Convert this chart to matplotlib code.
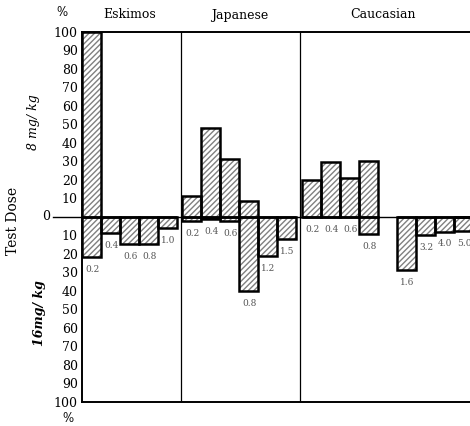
import numpy as np
import matplotlib
matplotlib.use('Agg')
import matplotlib.pyplot as plt
from matplotlib.lines import Line2D

# percent of subjects per class, upper half = 8 mg/kg, lower half = 16 mg/kg
eskimo_labels = ['0.2', '0.4', '0.6', '0.8', '1.0']
eskimo_up = [100, 0, 0, 0, 0]
eskimo_down = [22, 9, 15, 15, 6]

japanese_labels = ['0.2', '0.4', '0.6', '0.8', '1.2', '1.5']
japanese_up = [11, 48, 31, 8.5, 0, 0]
japanese_down = [2.5, 1.5, 2.5, 40, 21, 12]

caucasian_labels = ['0.2', '0.4', '0.6', '0.8', '1.6', '3.2', '4.0', '5.0']
caucasian_up = [20, 29.5, 21, 30, 0, 0, 0, 0]
caucasian_down = [0, 0, 0, 9.5, 29, 10, 8, 7.5]

groups = ['Eskimos', 'Japanese', 'Caucasian']
ticks = list(range(10, 101, 10))

serif = 'DejaVu Serif'

fig = plt.figure(figsize=(4.70, 4.26), dpi=100)
ax = fig.add_axes([82 / 470, 24.3 / 426, 388 / 470, 370 / 426])
ax.set_xlim(0, 388 / 19)
ax.set_ylim(-100, 100)

# slot layout (in bar widths): eskimo 0..4, japanese from 5.25, caucasian from 11.56 with a gap
esk_x = np.arange(len(eskimo_up)) * 1.0
jap_x = 5.25 + np.arange(len(japanese_up))
cau_x = 11.56 + np.array([0, 1, 2, 3, 5, 6, 7, 8])
dividers = [5.2, 11.47]

def draw(xs, up, down, labels):
    up = np.array(up, float)
    down = np.array(down, float)
    for vals in (up, -down):
        ax.bar(xs, vals, width=1, align='edge', color='white', edgecolor='#808080',
               hatch='//////', linewidth=0, zorder=2)
        ax.bar(xs, vals, width=1, align='edge', fill=False, edgecolor='black',
               linewidth=1.8, zorder=3)
    for x, d, lab in zip(xs, down, labels):
        ax.annotate(lab, (x + 0.55, -d), xytext=(0, -9), textcoords='offset points',
                    ha='center', va='center', fontsize=6.5, color='#555555', family=serif)

draw(esk_x, eskimo_up, eskimo_down, eskimo_labels)
draw(jap_x, japanese_up, japanese_down, japanese_labels)
draw(cau_x, caucasian_up, caucasian_down, caucasian_labels)

for d in dividers:
    ax.axvline(d, color='black', lw=0.9, zorder=1)

# zero line runs out past the axis
ax.add_line(Line2D([-29 / 388, 1], [0.5, 0.5], transform=ax.transAxes, color='black',
                   lw=1.0, clip_on=False, zorder=1))
fig.text(46 / 470, 1 - 216.7 / 426, '0', ha='center', va='center', fontsize=9, family=serif)

yt = [-t for t in ticks[::-1]] + ticks
ax.set_yticks(yt)
ax.set_yticklabels([str(abs(t)) for t in yt], family=serif, fontsize=9)
ax.tick_params(axis='y', length=0, pad=3)
ax.set_xticks([])

for s in ['top', 'bottom', 'left']:
    ax.spines[s].set_linewidth(1.4)
ax.spines['right'].set_visible(False)

# group headings
centers = [129.5, 240, 383]
for name, cx in zip(groups, centers):
    fig.text(cx / 470, 1 - 15 / 426, name, ha='center', va='center', fontsize=9, family=serif)

fig.text(62 / 470, 1 - 13 / 426, '%', ha='center', va='center', fontsize=8.5, family=serif)
fig.text(68 / 470, 1 - 418 / 426, '%', ha='center', va='center', fontsize=8.5, family=serif)

fig.text(13 / 470, 1 - 221 / 426, 'Test Dose', rotation=90, ha='center', va='center',
         fontsize=10, family=serif)
fig.text(33 / 470, 1 - 122 / 426, '8 mg/ kg', rotation=90, ha='center', va='center',
         fontsize=9, family=serif, style='italic')
fig.text(40 / 470, 1 - 313 / 426, '16mg/ kg', rotation=90, ha='center', va='center',
         fontsize=9, family=serif, style='italic', weight='bold')

fig.savefig('out.png', dpi=100)
